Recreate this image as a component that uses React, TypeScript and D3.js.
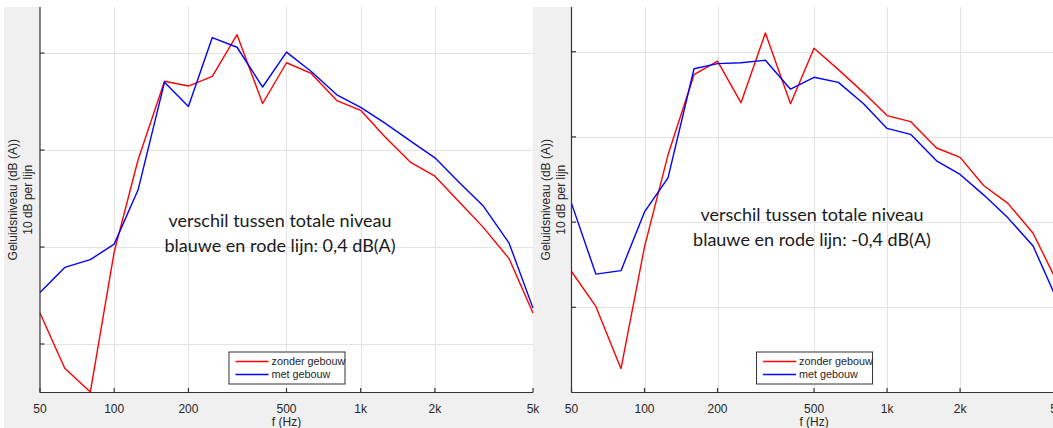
import React from "react";
import * as d3 from "d3";

const FREQS = [50, 63, 80, 100, 125, 160, 200, 250, 315, 400, 500, 630, 800, 1000, 1250, 1600, 2000, 2500, 3150, 4000, 5000];
const X_TICKS = [50, 100, 200, 500, 1000, 2000, 5000];
const X_TICK_LABELS = ["50", "100", "200", "500", "1k", "2k", "5k"];
const Y_GRID = [40, 50, 60, 70];

const LEFT_ZONDER = [43.2, 37.5, 35.05, 49.5, 59.0, 67.1, 66.6, 67.6, 71.9, 64.8, 69.0, 67.9, 65.1, 64.1, 61.4, 58.7, 57.3, 54.7, 52.0, 48.8, 43.2];
const LEFT_MET = [45.3, 47.9, 48.7, 50.3, 55.9, 67.0, 64.5, 71.6, 70.6, 66.5, 70.1, 68.1, 65.7, 64.4, 62.8, 60.9, 59.2, 56.7, 54.2, 50.4, 43.7];
const RIGHT_ZONDER = [44.2, 40.1, 32.8, 47.1, 57.9, 67.3, 68.9, 64.0, 72.2, 63.9, 70.4, 67.9, 65.2, 62.5, 61.8, 58.7, 57.6, 54.3, 52.2, 48.7, 43.1];
const RIGHT_MET = [52.2, 43.9, 44.3, 51.2, 55.2, 68.0, 68.6, 68.7, 69.0, 65.6, 67.0, 66.4, 63.9, 61.0, 60.3, 57.2, 55.6, 53.2, 50.5, 47.2, 41.0];

const SERIES_NAMES = ["zonder gebouw", "met gebouw"];
const Y_LABEL_1 = "Geluidsniveau (dB (A))";
const Y_LABEL_2 = "10 dB per lijn";
const X_LABEL = "f (Hz)";
const NOTE_LINE_1 = "verschil tussen totale niveau";
const LEFT_NOTE_2 = "blauwe en rode lijn: 0,4 dB(A)";
const RIGHT_NOTE_2 = "blauwe en rode lijn: -0,4 dB(A)";

const RED = "#ff0000";
const BLUE = "#0000ff";
const AXIS = "#333333";
const GRID = "#e3e3e3";
const TICK_FONT = "'Liberation Sans', Arial, sans-serif";
const NOTE_FONT = "Lato, 'Open Sans', sans-serif";

type PanelProps = {
  x0: number;
  x1: number;
  top: number;
  bottom: number;
  yDomain: [number, number];
  red: number[];
  blue: number[];
  note2: string;
  noteX: number;
  noteY: number;
  ylabX: number;
};

function Panel({ x0, x1, top, bottom, yDomain, red, blue, note2, noteX, noteY, ylabX }: PanelProps) {
  const x = d3.scaleLog().domain([50, 5000]).range([x0, x1]);
  const y = d3.scaleLinear().domain(yDomain).range([bottom, top]);
  const line = d3
    .line<number>()
    .x((_, i) => x(FREQS[i]))
    .y((d) => y(d));
  const cx = (x0 + x1) / 2;
  const cy = (top + bottom) / 2;
  const lgW = 116;
  const lgX = cx - lgW / 2;
  const lgY = 351.5;
  return (
    <g>
      <rect x={x0} y={top} width={x1 - x0} height={bottom - top} fill="#ffffff" />
      {X_TICKS.slice(1, -1).map((t) => (
        <line key={"gx" + t} x1={Math.round(x(t)) + 0.5} x2={Math.round(x(t)) + 0.5} y1={top} y2={bottom} stroke={GRID} strokeWidth={1} />
      ))}
      {Y_GRID.map((v) => (
        <line key={"gy" + v} x1={x0} x2={x1} y1={Math.round(y(v)) + 0.5} y2={Math.round(y(v)) + 0.5} stroke={GRID} strokeWidth={1} />
      ))}
      <text x={noteX} y={noteY} textAnchor="middle" fontFamily={NOTE_FONT} fontSize={18} fill="#1a1a1a">
        {NOTE_LINE_1}
      </text>
      <text x={noteX} y={noteY + 24.5} textAnchor="middle" fontFamily={NOTE_FONT} fontSize={18} fill="#1a1a1a">
        {note2}
      </text>
      <path d={line(red) || ""} fill="none" stroke={RED} strokeWidth={1.4} strokeLinejoin="round" />
      <path d={line(blue) || ""} fill="none" stroke={BLUE} strokeWidth={1.4} strokeLinejoin="round" />
      <line x1={x0} x2={x0} y1={top} y2={bottom} stroke={AXIS} strokeWidth={1.2} />
      <line x1={x0} x2={x1} y1={bottom} y2={bottom} stroke={AXIS} strokeWidth={1.2} />
      {X_TICKS.map((t, i) => (
        <g key={"xt" + t}>
          <line x1={x(t)} x2={x(t)} y1={bottom} y2={bottom - 4.5} stroke={AXIS} strokeWidth={1.2} />
          <text x={x(t)} y={412.5} textAnchor="middle" fontFamily={TICK_FONT} fontSize={12} fill="#262626">
            {X_TICK_LABELS[i]}
          </text>
        </g>
      ))}
      {Y_GRID.map((v) => (
        <line key={"yt" + v} x1={x0} x2={x0 + 4.5} y1={y(v)} y2={y(v)} stroke={AXIS} strokeWidth={1.2} />
      ))}
      <text x={cx} y={425.5} textAnchor="middle" fontFamily={TICK_FONT} fontSize={12} fill="#262626">
        {X_LABEL}
      </text>
      <text transform={`translate(${ylabX},${cy}) rotate(-90)`} textAnchor="middle" fontFamily={TICK_FONT} fontSize={12} fill="#262626">
        <tspan x={0} dy={0}>{Y_LABEL_1}</tspan>
        <tspan x={0} dy={15}>{Y_LABEL_2}</tspan>
      </text>
      <rect x={lgX + 0.5} y={lgY + 0.5} width={lgW} height={32} fill="#ffffff" stroke={AXIS} strokeWidth={1} />
      {[RED, BLUE].map((c, i) => (
        <g key={"lg" + i}>
          <line x1={lgX + 7} x2={lgX + 40} y1={lgY + 10 + i * 13} y2={lgY + 10 + i * 13} stroke={c} strokeWidth={1.4} />
          <text x={lgX + 43} y={lgY + 13.5 + i * 13} fontFamily={TICK_FONT} fontSize={10.8} fill="#262626">
            {SERIES_NAMES[i]}
          </text>
        </g>
      ))}
    </g>
  );
}

export default function App() {
  const W = 1053;
  const H = 428;
  return (
    <svg width={W} height={H} style={{ position: "absolute", left: 0, top: 0, display: "block" }}>
      <rect x={0} y={0} width={W} height={H} fill="#ffffff" />
      <rect x={4} y={7} width={W - 4} height={H - 7} fill="#f0f0f0" />
      <Panel x0={40} x1={533} top={7} bottom={392.5} yDomain={[35, 74.75]} red={LEFT_ZONDER} blue={LEFT_MET} note2={LEFT_NOTE_2} noteX={280} noteY={227} ylabX={17} />
      <Panel x0={571.5} x1={1056.6} top={7} bottom={392.5} yDomain={[30, 75.25]} red={RIGHT_ZONDER} blue={RIGHT_MET} note2={RIGHT_NOTE_2} noteX={812} noteY={221} ylabX={550} />
    </svg>
  );
}
